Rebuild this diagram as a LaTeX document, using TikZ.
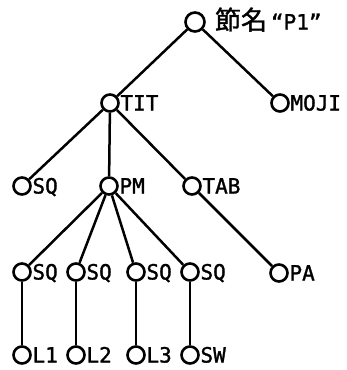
\documentclass[tikz,border=0pt]{standalone}
\usepackage{fontspec}
\setmainfont{DejaVu Sans Mono}
\newfontfamily\labfont[FakeBold=1.4]{DejaVu Sans Mono}
\newfontfamily\cjk[FakeBold=1.4]{Noto Sans CJK JP}
\begin{document}
\begin{tikzpicture}[x=1pt,y=-1pt,
  dot/.style={circle,draw,line width=2.6pt,minimum size=17pt,inner sep=0pt},
  lab/.style={anchor=base west,inner sep=0pt,font=\labfont\fontsize{21}{21}\selectfont,xshift=0.5pt,yshift=-7.5pt},
  edge/.style={line width=2.5pt}]
\useasboundingbox (0,0) rectangle (346,370);
\node[dot,minimum size=19pt] (root) at (195,22) {};
\node[dot] (tit) at (110,103) {};
\node[dot] (moji) at (280,103) {};
\node[dot] (sq0) at (22,186) {};
\node[dot] (pm) at (109,186) {};
\node[dot] (tab) at (192,186) {};
\node[dot] (sq1) at (22,272) {};
\node[dot] (sq2) at (76,272) {};
\node[dot] (sq3) at (136,272) {};
\node[dot] (sq4) at (190,272) {};
\node[dot] (pa) at (279,273) {};
\node[dot] (l1) at (22,355) {};
\node[dot] (l2) at (76,355) {};
\node[dot] (l3) at (136,355) {};
\node[dot] (sw) at (190,355) {};
\node[anchor=base west,inner sep=0pt,xshift=9pt,yshift=-7.5pt] (rootlab) at (root.east) {{\cjk\fontsize{26}{26}\selectfont 節名}\kern4pt{\labfont\fontsize{21}{21}\selectfont “P1”}};
\node[lab] (titlab) at (tit.east) {TIT};
\node[lab] (mojilab) at (moji.east) {MOJI};
\node[lab] (sq0lab) at (sq0.east) {SQ};
\node[lab] (pmlab) at (pm.east) {PM};
\node[lab] (tablab) at (tab.east) {TAB};
\node[lab] (sq1lab) at (sq1.east) {SQ};
\node[lab] (sq2lab) at (sq2.east) {SQ};
\node[lab] (sq3lab) at (sq3.east) {SQ};
\node[lab] (sq4lab) at (sq4.east) {SQ};
\node[lab] (palab) at (pa.east) {PA};
\node[lab] (l1lab) at (l1.east) {L1};
\node[lab] (l2lab) at (l2.east) {L2};
\node[lab] (l3lab) at (l3.east) {L3};
\node[lab] (swlab) at (sw.east) {SW};
\draw[edge] (root) -- (tit);
\draw[edge] (root) -- (moji);
\draw[edge] (tit) -- (sq0);
\draw[edge] (tit) -- (pm);
\draw[edge] (tit) -- (tab);
\draw[edge] (pm) -- (sq1);
\draw[edge] (pm) -- (sq2);
\draw[edge] (pm) -- (sq3);
\draw[edge] (pm) -- (sq4);
\draw[edge] (tab) -- (pa);
\draw[edge] (sq1) -- (l1);
\draw[edge] (sq2) -- (l2);
\draw[edge] (sq3) -- (l3);
\draw[edge] (sq4) -- (sw);
\end{tikzpicture}
\end{document}
